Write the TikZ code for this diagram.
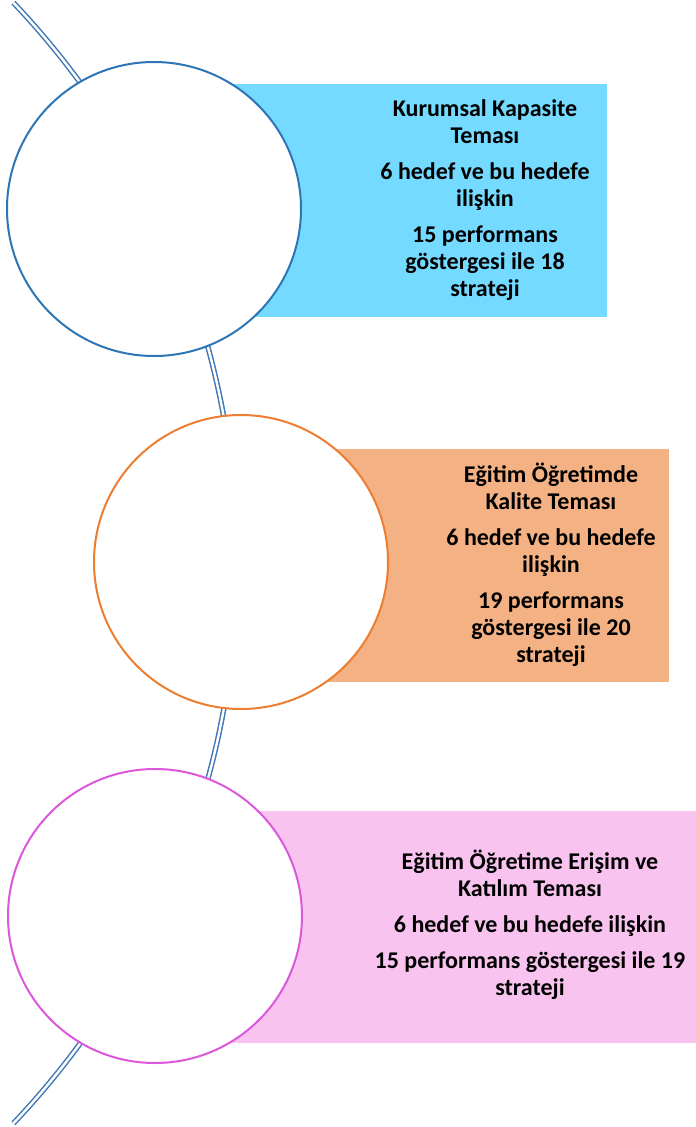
\documentclass[tikz,border=0pt]{standalone}
\usepackage{fontspec}
\setmainfont{Carlito}
\usetikzlibrary{calc}
\begin{document}
\begin{tikzpicture}[x=1pt,y=1pt,
  ring/.style={circle,fill=white,line width=2pt,minimum size=294pt,inner sep=0pt},
  label/.style={align=center,font=\bfseries\fontsize{24}{27}\selectfont,inner sep=0pt},
  spine/.style={draw=spinecol,line width=1.5pt,double=white,double distance=2.4pt}]
\definecolor{spinecol}{HTML}{4278B4}
\definecolor{c1}{HTML}{2E75B6}
\definecolor{c2}{HTML}{ED7D31}
\definecolor{c3}{HTML}{DB57DB}
\definecolor{f1}{HTML}{75DAFF}
\definecolor{f2}{HTML}{F4B183}
\definecolor{f3}{HTML}{F8C4EF}
\useasboundingbox (0,0) rectangle (696,-1127);
% spine arc
\coordinate (spc) at (-577,-563);
\coordinate (sptop) at ($(spc)+(43.5:814)$);
\draw[spine] (sptop) arc[start angle=43.5,end angle=-43.5,radius=814];
% bands
\fill[f1] (200,-84) rectangle (607,-317);
\fill[f2] (300,-449) rectangle (669,-682);
\fill[f3] (200,-811) rectangle (696,-1043);
% circles
\node[ring,draw=c1] (k1) at (154,-209) {};
\node[ring,draw=c2] (k2) at (241,-562) {};
\node[ring,draw=c3] (k3) at (155,-916) {};
% texts
\node[label] (t1) at (485,-200) {Kurumsal Kapasite\\Teması\\[9pt]6 hedef ve bu hedefe\\ilişkin\\[9pt]15 performans\\göstergesi ile 18\\strateji};
\node[label] (t2) at (551,-565) {Eğitim Öğretimde\\Kalite Teması\\[9pt]6 hedef ve bu hedefe\\ilişkin\\[9pt]19 performans\\göstergesi ile 20\\strateji};
\node[label] (t3) at (530,-925) {Eğitim Öğretime Erişim ve\\Katılım Teması\\[9pt]6 hedef ve bu hedefe ilişkin\\[9pt]15 performans göstergesi ile 19\\strateji};
\end{tikzpicture}
\end{document}
